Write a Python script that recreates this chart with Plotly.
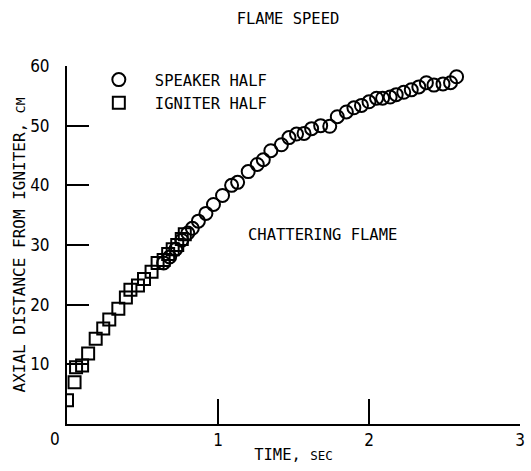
import plotly.graph_objects as go

# Flame front position, speaker half (open circles)
speaker_t = [0.64, 0.68, 0.72, 0.76, 0.80, 0.83, 0.87, 0.92, 0.97, 1.03,
             1.09, 1.13, 1.20, 1.26, 1.30, 1.35, 1.42, 1.47, 1.52, 1.57,
             1.62, 1.68, 1.74, 1.79, 1.85, 1.90, 1.95, 2.00, 2.05, 2.09,
             2.14, 2.18, 2.23, 2.28, 2.33, 2.38, 2.43, 2.49, 2.54, 2.58]
speaker_d = [27.0, 28.0, 29.3, 30.8, 32.0, 32.8, 34.0, 35.3, 36.8, 38.3,
             40.0, 40.5, 42.3, 43.5, 44.3, 45.8, 46.8, 48.0, 48.6, 48.7,
             49.5, 50.0, 49.9, 51.5, 52.3, 53.0, 53.4, 54.0, 54.6, 54.6,
             54.8, 55.2, 55.6, 56.0, 56.5, 57.2, 56.8, 57.0, 57.2, 58.2]

# Flame front position, igniter half (open squares)
igniter_t = [0.00, 0.05, 0.06, 0.10, 0.14, 0.19, 0.24, 0.28, 0.34, 0.39,
             0.42, 0.47, 0.51, 0.56, 0.60, 0.64, 0.67, 0.70, 0.73, 0.76, 0.78]
igniter_d = [4.0, 7.0, 9.5, 9.8, 11.8, 14.3, 16.0, 17.5, 19.3, 21.2,
             22.5, 23.2, 24.3, 25.5, 27.0, 27.5, 28.5, 29.3, 30.0, 31.0, 31.8]

x_ticks = [1, 2, 3]
y_ticks = [10, 20, 30, 40, 50, 60]

MONO = "DejaVu Sans Mono"
NARROW = "Liberation Sans Narrow, DejaVu Sans Condensed, sans-serif"

fig = go.Figure()
fig.add_trace(go.Scatter(
    x=speaker_t, y=speaker_d, mode="markers", name="SPEAKER HALF",
    marker=dict(symbol="circle-open", size=13, color="black",
                line=dict(width=2, color="black")),
))
fig.add_trace(go.Scatter(
    x=igniter_t, y=igniter_d, mode="markers", name="IGNITER HALF",
    marker=dict(symbol="square-open", size=12, color="black",
                line=dict(width=2, color="black")),
))

fig.update_layout(
    width=531, height=471,
    margin=dict(l=67, r=6, t=66, b=47),
    paper_bgcolor="white", plot_bgcolor="white",
    font=dict(family=MONO, size=15.5, color="black"),
    title=dict(text="FLAME SPEED", x=288 / 531, xanchor="center",
               y=1 - 19 / 471, yanchor="middle",
               font=dict(family=MONO, size=15.5, color="black")),
    showlegend=True,
    legend=dict(x=(83 - 67) / 458, y=1 + 3 / 358, xanchor="left", yanchor="top",
                bgcolor="rgba(0,0,0,0)", itemwidth=62,
                font=dict(family=MONO, size=15.5, color="black"),
                tracegroupgap=0),
    xaxis=dict(range=[0, 3], tickvals=x_ticks, ticktext=[str(v) for v in x_ticks],
               showgrid=False, zeroline=False, showline=True,
               linecolor="black", linewidth=2, ticks="inside", ticklen=25,
               tickwidth=2, tickcolor="black",
               tickfont=dict(family=NARROW, size=17, color="black"),
               title=dict(text="TIME, <span style='font-size:12.5px'>SEC</span>",
                          font=dict(family=MONO, size=15.5, color="black"),
                          standoff=0)),
    yaxis=dict(range=[0, 60], tickvals=y_ticks, ticktext=[str(v) for v in y_ticks],
               showgrid=False, zeroline=False, showline=True,
               linecolor="black", linewidth=2, ticks="inside", ticklen=22,
               tickwidth=2, tickcolor="black", ticklabelstandoff=12,
               tickfont=dict(family=NARROW, size=17, color="black"),
               title=dict(text="AXIAL DISTANCE FROM IGNITER, <span style='font-size:13px'>CM</span>",
                          font=dict(family=MONO, size=16, color="black"),
                          standoff=1)),
)

# origin label shared by both axes
fig.add_annotation(text="0", xref="paper", yref="paper", x=0, y=0,
                   xanchor="center", yanchor="middle",
                   xshift=-12, yshift=-15, showarrow=False,
                   font=dict(family=NARROW, size=17, color="black"))

fig.add_annotation(text="CHATTERING FLAME", x=1.69, y=31.7, showarrow=False,
                   font=dict(family=MONO, size=15.5, color="black"))

fig.write_html("out.html")
